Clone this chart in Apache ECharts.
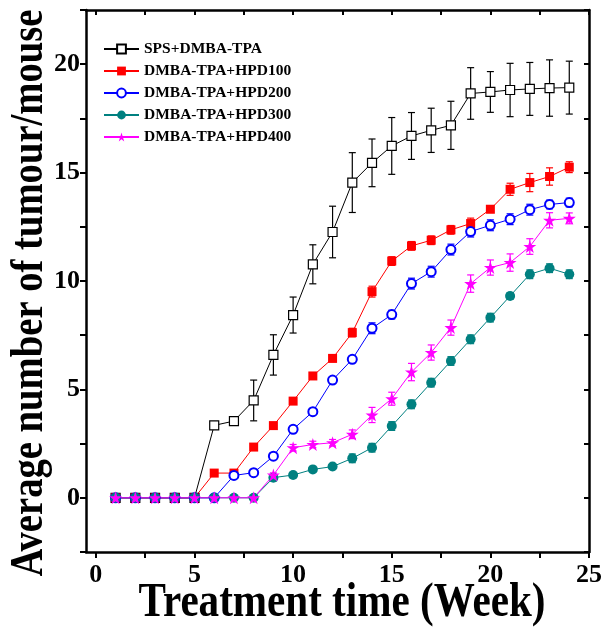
<!DOCTYPE html>
<html>
<head>
<meta charset="utf-8">
<script src="https://cdn.jsdelivr.net/npm/echarts@6/dist/echarts.min.js"></script>
<style>html,body{margin:0;padding:0;background:#fff;}#chart{width:605px;height:627px;}</style>
</head>
<body>
<div id="chart"></div>
<script>
var weeks = [1,2,3,4,5,6,7,8,9,10,11,12,13,14,15,16,17,18,19,20,21,22,23,24];
var seriesNames = ['SPS+DMBA-TPA','DMBA-TPA+HPD100','DMBA-TPA+HPD200','DMBA-TPA+HPD300','DMBA-TPA+HPD400'];
var sps     = [0,0,0,0,0,3.34,3.54,4.49,6.59,8.43,10.77,12.26,14.54,15.45,16.23,16.69,16.95,17.18,18.65,18.72,18.81,18.86,18.90,18.92];
var spsErr  = [0,0,0,0,0,0.15,0.15,0.94,0.93,0.83,0.90,1.19,1.38,1.10,1.31,1.08,1.02,1.11,1.19,0.94,1.23,1.22,1.30,1.22];
var hpd100    = [0,0,0,0,0,1.14,1.14,2.34,3.33,4.46,5.62,6.43,7.62,9.51,10.92,11.62,11.88,12.36,12.65,13.31,14.23,14.54,14.82,15.25];
var hpd100Err = [0,0,0,0,0,0.05,0.15,0.10,0.10,0.10,0.12,0.15,0.20,0.25,0.20,0.20,0.20,0.20,0.25,0.15,0.28,0.42,0.40,0.25];
var hpd200    = [0,0,0,0,0,0,1.03,1.16,1.92,3.16,3.97,5.43,6.39,7.82,8.45,9.88,10.43,11.45,12.28,12.57,12.85,13.29,13.53,13.62];
var hpd200Err = [0,0,0,0,0,0,0.10,0.10,0.10,0.15,0.10,0.10,0.15,0.25,0.20,0.25,0.25,0.25,0.25,0.25,0.25,0.25,0.20,0.20];
var hpd300    = [0,0,0,0,0,0,0,0,0.93,1.05,1.31,1.44,1.82,2.31,3.31,4.31,5.31,6.31,7.31,8.31,9.31,10.31,10.59,10.31];
var hpd300Err = [0,0,0,0,0,0,0,0,0.05,0.05,0.08,0.10,0.20,0.20,0.20,0.20,0.20,0.20,0.20,0.20,0.15,0.20,0.20,0.20];
var hpd400    = [0,0,0,0,0,0,0,0,1.05,2.31,2.46,2.54,2.93,3.82,4.57,5.80,6.70,7.85,9.88,10.62,10.85,11.59,12.80,12.89];
var hpd400Err = [0,0,0,0,0,0,0,0,0.10,0.15,0.15,0.15,0.20,0.35,0.30,0.40,0.35,0.35,0.40,0.35,0.40,0.36,0.35,0.25];
var xTickValues = [0,2.5,5,7.5,10,12.5,15,17.5,20,22.5,25];
var xLabelValues = [0,5,10,15,20,25];
var xTitle = 'Treatment time (Week)';
var yTitle = 'Average number of tumour/mouse';

var colors = ['#000000','#ff0000','#0000ff','#008080','#ff00ff'];
var values = [sps,hpd100,hpd200,hpd300,hpd400];
var errors = [spsErr,hpd100Err,hpd200Err,hpd300Err,hpd400Err];
var starPath = 'path://M0,-1 L0.2245,-0.309 L0.951,-0.309 L0.363,0.118 L0.588,0.809 L0,0.382 L-0.588,0.809 L-0.363,0.118 L-0.951,-0.309 L-0.2245,-0.309 Z';
var symbols = [
  {symbol:'rect', size:9, itemStyle:{color:'#ffffff', borderColor:'#000000', borderWidth:1.2}},
  {symbol:'rect', size:9, itemStyle:{color:'#ff0000', borderColor:'#ff0000', borderWidth:0}},
  {symbol:'emptyCircle', size:9, itemStyle:{color:'#0000ff', borderColor:'#0000ff', borderWidth:1.3}},
  {symbol:'circle', size:10, itemStyle:{color:'#008080', borderColor:'#008080', borderWidth:0}},
  {symbol:starPath, size:13, itemStyle:{color:'#ff00ff', borderColor:'#ff00ff', borderWidth:0}}
];
var FONT = '"Liberation Serif","Times New Roman",serif';

var series = [];
values.forEach(function(vals, i){
  var errData = weeks.map(function(w, k){ return [w, vals[k], errors[i][k]]; });
  series.push({
    type:'custom', name:'err'+i, z:2, silent:true,
    data: errData,
    encode:{x:0, y:1},
    renderItem:function(params, api){
      var x = api.value(0), y = api.value(1), e = api.value(2);
      if (!(e > 0)) return null;
      var top = api.coord([x, y + e]);
      var bot = api.coord([x, y - e]);
      var hw = 3.5;
      var st = {stroke: colors[i], lineWidth: 1.2};
      return {type:'group', children:[
        {type:'line', shape:{x1:top[0], y1:top[1], x2:bot[0], y2:bot[1]}, style:st},
        {type:'line', shape:{x1:top[0]-hw, y1:top[1], x2:top[0]+hw, y2:top[1]}, style:st},
        {type:'line', shape:{x1:bot[0]-hw, y1:bot[1], x2:bot[0]+hw, y2:bot[1]}, style:st}
      ]};
    }
  });
  series.push({
    type:'line', name:seriesNames[i], z:3,
    data: weeks.map(function(w, k){ return [w, vals[k]]; }),
    symbol: symbols[i].symbol, symbolSize: symbols[i].size,
    showAllSymbol:true,
    itemStyle: symbols[i].itemStyle,
    lineStyle:{color:colors[i], width:1},
    color: colors[i],
    emphasis:{disabled:true},
    animation:false
  });
});

var axisLineStyle = {color:'#000', width:2.5};
var chart = echarts.init(document.getElementById('chart'), null, {renderer:'canvas'});
chart.setOption({
  animation:false,
  backgroundColor:'#ffffff',
  grid:{left:86, right:16, top:10, bottom:75, containLabel:false},
  legend:{
    show:true, orient:'vertical', left:98, top:36,
    itemWidth:35, itemHeight:11, itemGap:6, itemTextGap:5,
    data: seriesNames,
    textStyle:{fontFamily:FONT, fontWeight:'bold', fontSize:15.5, color:'#000'}
  },
  xAxis:[
    {type:'value', position:'bottom', min:-0.5, max:25,
      axisLine:{show:true, onZero:false, lineStyle:axisLineStyle},
      axisTick:{show:true, inside:false, length:6, lineStyle:{color:'#000', width:2}, customValues:xTickValues},
      axisLabel:{show:true, customValues:xLabelValues, fontFamily:FONT, fontWeight:'bold', fontSize:26, color:'#000', margin:10},
      splitLine:{show:false}},
    {type:'value', position:'top', min:-0.5, max:25,
      axisLine:{show:true, onZero:false, lineStyle:axisLineStyle},
      axisTick:{show:true, inside:true, length:5, lineStyle:{color:'#000', width:2}, customValues:xTickValues},
      axisLabel:{show:false},
      splitLine:{show:false}}
  ],
  yAxis:[
    {type:'value', position:'left', min:-2.5, max:22.5, interval:2.5,
      axisLine:{show:true, onZero:false, lineStyle:axisLineStyle},
      axisTick:{show:true, inside:false, length:6, lineStyle:{color:'#000', width:2}},
      axisLabel:{show:true, fontFamily:FONT, fontWeight:'bold', fontSize:26, color:'#000', margin:6,
        formatter:function(v){ return (Math.abs(v % 5) < 1e-9 && v >= 0 && v <= 20) ? String(v) : ''; }},
      splitLine:{show:false}},
    {type:'value', position:'right', min:-2.5, max:22.5, interval:2.5,
      axisLine:{show:true, onZero:false, lineStyle:axisLineStyle},
      axisTick:{show:true, inside:true, length:5, lineStyle:{color:'#000', width:2}},
      axisLabel:{show:false},
      splitLine:{show:false}}
  ],
  graphic:[
    {type:'text', x:342, y:604, scaleX:0.856, scaleY:1, silent:true,
      style:{text:xTitle, font:'bold 48px ' + FONT, fill:'#000', align:'center', verticalAlign:'middle'}},
    {type:'text', x:30, y:293, rotation:Math.PI/2, scaleX:0.84, scaleY:1, silent:true,
      style:{text:yTitle, font:'bold 46px ' + FONT, fill:'#000', align:'center', verticalAlign:'middle'}}
  ],
  series: series
});
</script>
</body>
</html>
